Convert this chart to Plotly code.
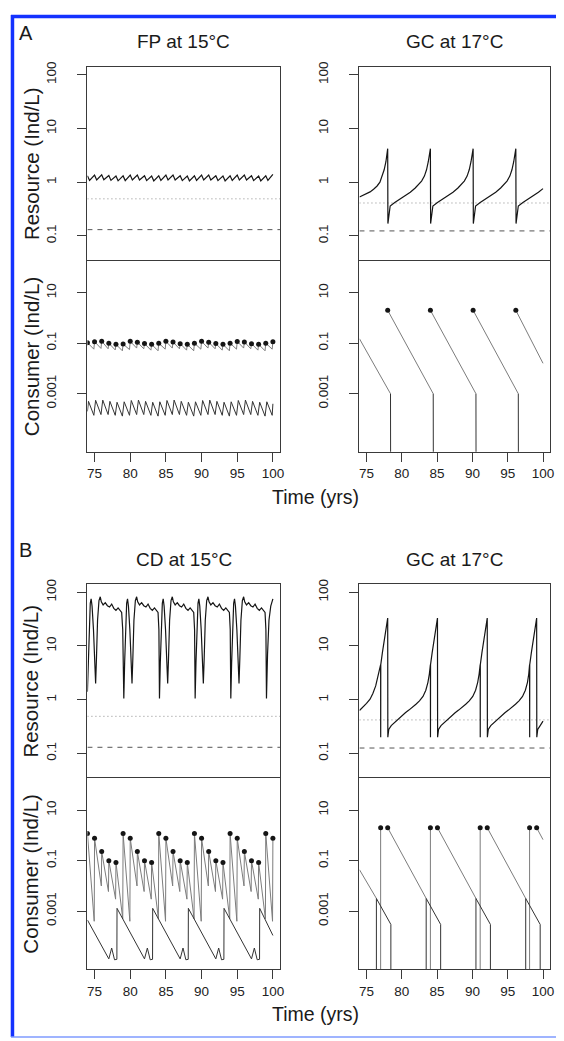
import plotly.graph_objects as go

# page is 564x1041; the html body adds an 8px margin, so the figure is 8px smaller/offset
PAGE_W, PAGE_H = 564, 1041
OFF = 8
W, H = PAGE_W - OFF, PAGE_H - OFF

# ---------------- data ----------------
x_ticks = [75, 80, 85, 90, 95, 100]
res_tickvals = [0.1, 1, 10, 100]
res_ticktext = ["0.1", "1", "10", "100"]
con_tickvals = [0.001, 0.1, 10]
con_ticktext = ["0.001", "0.1", "10"]

# thresholds: [dotted, dashed]
fp_thr = [0.49, 0.131]
gcA_thr = [0.41, 0.124]
cd_thr = [0.49, 0.13]
gcB_thr = [0.42, 0.126]

# ---- A: FP at 15C ----
fp_res_t = [74.0, 74.3, 75.0, 75.3, 76.0, 76.3, 77.0, 77.3, 78.0, 78.3, 79.0, 79.3, 80.0, 80.3,
            81.0, 81.3, 82.0, 82.3, 83.0, 83.3, 84.0, 84.3, 85.0, 85.3, 86.0, 86.3, 87.0, 87.3,
            88.0, 88.3, 89.0, 89.3, 90.0, 90.3, 91.0, 91.3, 92.0, 92.3, 93.0, 93.3, 94.0, 94.3,
            95.0, 95.3, 96.0, 96.3, 97.0, 97.3, 98.0, 98.3, 99.0, 99.3, 100.0]
fp_res_v = [1.32, 1.08, 1.35, 1.10, 1.37, 1.11, 1.33, 1.08, 1.30, 1.06, 1.31, 1.07, 1.36, 1.10,
            1.36, 1.10, 1.32, 1.07, 1.30, 1.06, 1.32, 1.08, 1.36, 1.10, 1.36, 1.10, 1.32, 1.07,
            1.30, 1.06, 1.32, 1.08, 1.36, 1.10, 1.36, 1.10, 1.32, 1.07, 1.30, 1.06, 1.32, 1.08,
            1.36, 1.10, 1.36, 1.10, 1.32, 1.07, 1.30, 1.06, 1.32, 1.08, 1.40]

fp_dot_t = [74, 75, 76, 77, 78, 79, 80, 81, 82, 83, 84, 85, 86, 87, 88, 89, 90, 91, 92, 93,
            94, 95, 96, 97, 98, 99, 100]
fp_dot_v = [0.105, 0.115, 0.12, 0.10, 0.09, 0.092, 0.118, 0.11, 0.097, 0.09, 0.10, 0.118,
            0.112, 0.096, 0.09, 0.10, 0.118, 0.11, 0.097, 0.09, 0.10, 0.117, 0.112, 0.096,
            0.09, 0.10, 0.115]

fp_adult_t = [74.0, 74.9, 75.0, 75.9, 76.0, 76.9, 77.0, 77.9, 78.0, 78.9, 79.0, 79.9, 80.0, 80.9,
              81.0, 81.9, 82.0, 82.9, 83.0, 83.9, 84.0, 84.9, 85.0, 85.9, 86.0, 86.9, 87.0, 87.9,
              88.0, 88.9, 89.0, 89.9, 90.0, 90.9, 91.0, 91.9, 92.0, 92.9, 93.0, 93.9, 94.0, 94.9,
              95.0, 95.9, 96.0, 96.9, 97.0, 97.9, 98.0, 98.9, 99.0, 99.9, 100.0]
fp_adult_v = [0.105, 0.058, 0.115, 0.062, 0.12, 0.060, 0.10, 0.054, 0.09, 0.050, 0.092, 0.056,
              0.118, 0.064, 0.11, 0.060, 0.097, 0.053, 0.09, 0.050, 0.10, 0.058, 0.118, 0.064,
              0.112, 0.060, 0.096, 0.053, 0.09, 0.050, 0.10, 0.058, 0.118, 0.064, 0.11, 0.060,
              0.097, 0.053, 0.09, 0.050, 0.10, 0.058, 0.117, 0.064, 0.112, 0.060, 0.096, 0.053,
              0.09, 0.050, 0.10, 0.058, 0.115]

fp_juv_t = [74.0, 74.15, 74.9, 75.15, 75.9, 76.15, 76.9, 77.15, 77.9, 78.15, 78.9, 79.15, 79.9,
            80.15, 80.9, 81.15, 81.9, 82.15, 82.9, 83.15, 83.9, 84.15, 84.9, 85.15, 85.9, 86.15,
            86.9, 87.15, 87.9, 88.15, 88.9, 89.15, 89.9, 90.15, 90.9, 91.15, 91.9, 92.15, 92.9,
            93.15, 93.9, 94.15, 94.9, 95.15, 95.9, 96.15, 96.9, 97.15, 97.9, 98.15, 98.9, 99.15,
            99.9, 100.0]
fp_juv_v = [0.00020, 0.00050, 0.00014, 0.00055, 0.00015, 0.00056, 0.00015, 0.00050, 0.00014,
            0.00046, 0.00013, 0.00048, 0.00014, 0.00054, 0.00015, 0.00056, 0.00015, 0.00050,
            0.00014, 0.00046, 0.00013, 0.00048, 0.00014, 0.00054, 0.00015, 0.00056, 0.00015,
            0.00050, 0.00014, 0.00046, 0.00013, 0.00048, 0.00014, 0.00054, 0.00015, 0.00056,
            0.00015, 0.00050, 0.00014, 0.00046, 0.00013, 0.00048, 0.00014, 0.00054, 0.00015,
            0.00056, 0.00015, 0.00050, 0.00014, 0.00046, 0.00013, 0.00048, 0.00014, 0.00040]

# ---- A: GC at 17C ----
gcA_res_t = [74.0, 74.5, 75.0, 75.5, 76.0, 76.5, 76.9, 77.2, 77.5, 77.75, 77.92, 78.0, 78.03, 78.35,
             79.0, 79.8, 80.5, 81.2, 81.9, 82.4, 82.8, 83.2, 83.5, 83.75, 83.95, 84.05, 84.08, 84.4,
             85.05, 85.85, 86.55, 87.25, 87.95, 88.45, 88.85, 89.25, 89.55, 89.8, 90.0, 90.1, 90.13, 90.45,
             91.1, 91.9, 92.6, 93.3, 94.0, 94.5, 94.9, 95.3, 95.6, 95.85, 96.05, 96.15, 96.18, 96.5,
             97.15, 97.95, 98.65, 99.35, 100.0]
gcA_res_v = [0.53, 0.57, 0.61, 0.66, 0.74, 0.85, 1.0, 1.25, 1.7, 2.4, 3.3, 4.2, 0.17, 0.36,
             0.42, 0.49, 0.56, 0.65, 0.78, 0.92, 1.05, 1.3, 1.7, 2.4, 3.3, 4.2, 0.17, 0.36,
             0.42, 0.49, 0.56, 0.65, 0.78, 0.92, 1.05, 1.3, 1.7, 2.4, 3.3, 4.2, 0.17, 0.36,
             0.42, 0.49, 0.56, 0.65, 0.78, 0.92, 1.05, 1.3, 1.7, 2.4, 3.3, 4.2, 0.17, 0.36,
             0.42, 0.49, 0.56, 0.65, 0.76]

gcA_dot_t = [78.0, 84.05, 90.1, 96.15]
gcA_dot_v = [2.0, 2.0, 2.0, 2.0]
gcA_adult_t = [74.0, 78.4, None, 78.0, 84.45, None, 84.05, 90.5, None, 90.1, 96.5, None, 96.15, 100.0]
gcA_adult_v = [0.15, 0.001, None, 2.0, 0.001, None, 2.0, 0.001, None, 2.0, 0.001, None, 2.0, 0.016]
gcA_juv_t = [78.4, 78.42, None, 84.45, 84.47, None, 90.5, 90.52, None, 96.5, 96.52]
gcA_juv_v = [0.001, 1e-7, None, 0.001, 1e-7, None, 0.001, 1e-7, None, 0.001, 1e-7]

# ---- B: CD at 15C ----
cd_res_t = [74.0, 74.12, 74.25, 74.4, 74.52, 74.65, 74.85, 75.02, 75.15, 75.27, 75.42, 75.62, 75.8,
            75.95, 76.2, 76.5, 76.8, 77.1, 77.4, 77.7, 78.0, 78.3, 78.6, 78.8, 78.95,
            79.1, 79.22, 79.35, 79.5, 79.62, 79.75, 79.95, 80.12, 80.25, 80.37, 80.52, 80.72, 80.9,
            81.05, 81.3, 81.6, 81.9, 82.2, 82.5, 82.8, 83.1, 83.4, 83.7, 83.9, 84.02,
            84.1, 84.22, 84.35, 84.5, 84.62, 84.75, 84.95, 85.12, 85.25, 85.37, 85.52, 85.72, 85.9,
            86.05, 86.3, 86.6, 86.9, 87.2, 87.5, 87.8, 88.1, 88.4, 88.7, 88.9, 89.02,
            89.1, 89.22, 89.35, 89.5, 89.62, 89.75, 89.95, 90.12, 90.25, 90.37, 90.52, 90.72, 90.9,
            91.05, 91.3, 91.6, 91.9, 92.2, 92.5, 92.8, 93.1, 93.4, 93.7, 93.9, 94.02,
            94.1, 94.22, 94.35, 94.5, 94.62, 94.75, 94.95, 95.12, 95.25, 95.37, 95.52, 95.72, 95.9,
            96.05, 96.3, 96.6, 96.9, 97.2, 97.5, 97.8, 98.1, 98.4, 98.7, 98.9, 99.02,
            99.1, 99.25, 99.45, 99.7, 100.0]
cd_res_v = [1.4, 5, 25, 62, 75, 55, 20, 5, 2.0, 6, 30, 70, 82, 66, 58, 64, 56, 53, 60, 50, 46, 51, 45, 42, 20,
            1.05, 5, 25, 62, 75, 55, 20, 5, 2.0, 6, 30, 70, 82, 66, 58, 64, 56, 53, 60, 50, 46, 51, 45, 42, 20,
            1.05, 5, 25, 62, 75, 55, 20, 5, 2.0, 6, 30, 70, 82, 66, 58, 64, 56, 53, 60, 50, 46, 51, 45, 42, 20,
            1.05, 5, 25, 62, 75, 55, 20, 5, 2.0, 6, 30, 70, 82, 66, 58, 64, 56, 53, 60, 50, 46, 51, 45, 42, 20,
            1.05, 5, 25, 62, 75, 55, 20, 5, 2.0, 6, 30, 70, 82, 66, 58, 64, 56, 53, 60, 50, 46, 51, 45, 42, 20,
            1.05, 7, 30, 55, 75]

cd_dot_t = [74, 75, 76, 77, 78, 79, 80, 81, 82, 83, 84, 85, 86, 87, 88, 89, 90, 91, 92, 93,
            94, 95, 96, 97, 98, 99, 100]
cd_dot_v = [1.2, 0.77, 0.23, 0.10, 0.085, 1.2, 0.77, 0.23, 0.10, 0.085, 1.2, 0.77, 0.23, 0.10,
            0.085, 1.2, 0.77, 0.23, 0.10, 0.085, 1.2, 0.77, 0.23, 0.10, 0.085, 1.2, 0.77]
cd_adult_t = [74.0, 74.95, 75.0, 75.95, 76.0, 76.95, 77.0, 77.95, 78.0, 78.95, 79.0, 79.95, 80.0,
              80.95, 81.0, 81.95, 82.0, 82.95, 83.0, 83.95, 84.0, 84.95, 85.0, 85.95, 86.0, 86.95,
              87.0, 87.95, 88.0, 88.95, 89.0, 89.95, 90.0, 90.95, 91.0, 91.95, 92.0, 92.95, 93.0,
              93.95, 94.0, 94.95, 95.0, 95.95, 96.0, 96.95, 97.0, 97.95, 98.0, 98.95, 99.0, 99.95,
              100.0]
cd_adult_v = [1.2, 0.0004, 0.77, 0.01, 0.23, 0.006, 0.10, 0.003, 0.085, 0.0005, 1.2, 0.0004, 0.77,
              0.01, 0.23, 0.006, 0.10, 0.003, 0.085, 0.0005, 1.2, 0.0004, 0.77, 0.01, 0.23, 0.006,
              0.10, 0.003, 0.085, 0.0005, 1.2, 0.0004, 0.77, 0.01, 0.23, 0.006, 0.10, 0.003, 0.085,
              0.0005, 1.2, 0.0004, 0.77, 0.01, 0.23, 0.006, 0.10, 0.003, 0.085, 0.0005, 1.2, 0.0004,
              0.77]
cd_juv_t = [74.0, 77.0, 77.4, 77.8, 78.13, 78.15, 82.0, 82.4, 82.8, 83.13, 83.15, 87.0, 87.4, 87.8,
            88.13, 88.15, 92.0, 92.4, 92.8, 93.13, 93.15, 97.0, 97.4, 97.8, 98.13, 98.15, 100.0]
cd_juv_v = [0.00045, 1.3e-5, 3.5e-5, 1.2e-5, 1.25e-5, 0.0013, 1.3e-5, 3.5e-5, 1.2e-5, 1.25e-5,
            0.0013, 1.3e-5, 3.5e-5, 1.2e-5, 1.25e-5, 0.0013, 1.3e-5, 3.5e-5, 1.2e-5, 1.25e-5,
            0.0013, 1.3e-5, 3.5e-5, 1.2e-5, 1.25e-5, 0.0013, 0.00011]

# ---- B: GC at 17C ----
gcB_res_t = [74.0, 74.5, 75.0, 75.5, 75.9, 76.3, 76.6, 76.85, 77.0, 77.01, 77.02, 77.25, 77.5, 77.75, 78.0,
             78.02, 78.15, 78.5, 79.0, 79.5, 80.0, 80.5, 81.0, 81.5, 82.0, 82.5, 83.0, 83.4, 83.7, 83.9,
             84.05, 84.06, 84.07, 84.3, 84.55, 84.8, 85.05,
             85.07, 85.2, 85.55, 86.05, 86.55, 87.05, 87.55, 88.05, 88.55, 89.05, 89.55, 90.05, 90.45,
             90.75, 90.95, 91.1, 91.11, 91.12, 91.35, 91.6, 91.85, 92.1,
             92.12, 92.25, 92.6, 93.1, 93.6, 94.1, 94.6, 95.1, 95.6, 96.1, 96.6, 97.1, 97.5, 97.8, 97.98,
             98.1, 98.11, 98.12, 98.35, 98.6, 98.85, 99.1,
             99.12, 99.25, 99.6, 100.0]
gcB_res_v = [0.63, 0.72, 0.85, 1.02, 1.3, 1.8, 2.6, 3.6, 4.5, 0.2, 4.5, 7.5, 12.5, 20, 33,
             0.2, 0.28, 0.33, 0.38, 0.44, 0.5, 0.57, 0.64, 0.72, 0.82, 0.95, 1.15, 1.5, 2.1, 3.0,
             4.5, 0.2, 4.5, 7.5, 12.5, 20, 33,
             0.2, 0.28, 0.33, 0.38, 0.44, 0.5, 0.57, 0.64, 0.72, 0.82, 0.95, 1.15, 1.5,
             2.1, 3.0, 4.5, 0.2, 4.5, 7.5, 12.5, 20, 33,
             0.2, 0.28, 0.33, 0.38, 0.44, 0.5, 0.57, 0.64, 0.72, 0.82, 0.95, 1.15, 1.5, 2.1, 3.0,
             4.5, 0.2, 4.5, 7.5, 12.5, 20, 33,
             0.2, 0.28, 0.33, 0.40]

gcB_dot_t = [77.0, 78.0, 84.05, 85.05, 91.1, 92.1, 98.1, 99.1]
gcB_dot_v = [2.0, 2.0, 2.0, 2.0, 2.0, 2.0, 2.0, 2.0]
gcB_adult_t = [74.0, 76.4, None, 78.0, 83.45, None, 85.05, 90.5, None, 92.1, 97.55, None, 99.1, 100.0,
               None, 77.0, 77.0, None, 84.05, 84.05, None, 91.1, 91.1, None, 98.1, 98.1]
gcB_adult_v = [0.044, 0.0032, None, 2.0, 0.0032, None, 2.0, 0.0032, None, 2.0, 0.0032, None, 2.0, 0.68,
               None, 2.0, 1e-7, None, 2.0, 1e-7, None, 2.0, 1e-7, None, 2.0, 1e-7]
gcB_juv_t = [76.4, 76.4, 78.45, 78.45, None, 83.45, 83.45, 85.5, 85.5, None, 90.5, 90.5, 92.55, 92.55,
             None, 97.55, 97.55, 99.6, 99.6]
gcB_juv_v = [1e-7, 0.0032, 0.0003, 1e-7, None, 1e-7, 0.0032, 0.0003, 1e-7, None, 1e-7, 0.0032, 0.0003,
             1e-7, None, 1e-7, 0.0032, 0.0003, 1e-7]

# ---------------- layout geometry (page pixels) ----------------
XL = (88, 282)
XR = (362, 554)
Y_PANELS = {"A_res": (62, 256), "A_con": (257, 449), "B_res": (582, 776), "B_con": (777, 969)}
RES_RANGE = [-1.444, 2.148]
CON_RANGE = [-5.30, 2.26]
X_RANGE = [74, 101]

FONT = "Liberation Sans, Arial, sans-serif"
AXC = "#3a3a3a"
BLACK = "#151515"
GRAY = "#7c7c7c"

fig = go.Figure()


def px_x(p):
    return (p - OFF) / W


def px_y(p):
    return 1 - (p - OFF) / H


def xd(px):
    return [px_x(px[0]), px_x(px[1])]


def yd(py):
    return [px_y(py[1]), px_y(py[0])]


axes_def = [
    (1, XL, "A_res", "res"),
    (2, XL, "A_con", "con"),
    (3, XR, "A_res", "res"),
    (4, XR, "A_con", "con"),
    (5, XL, "B_res", "res"),
    (6, XL, "B_con", "con"),
    (7, XR, "B_res", "res"),
    (8, XR, "B_con", "con"),
]

layout = {}
for i, xpx, yk, kind in axes_def:
    xs = "" if i == 1 else str(i)
    xa = dict(domain=xd(xpx), range=X_RANGE, anchor="y" + xs, showgrid=False, zeroline=False,
              showline=True, mirror=True, linecolor=AXC, linewidth=1, fixedrange=True)
    if kind == "con":
        xa.update(tickmode="array", tickvals=x_ticks, ticktext=[str(v) for v in x_ticks],
                  ticks="outside", ticklen=9, tickcolor=AXC, tickwidth=1,
                  tickfont=dict(family=FONT, size=13.5, color="#222"))
    else:
        xa.update(showticklabels=False, ticks="")
    ya = dict(domain=yd(Y_PANELS[yk]), type="log", anchor="x" + xs, showgrid=False, zeroline=False,
              showline=True, mirror=True, linecolor=AXC, linewidth=1, fixedrange=True,
              ticks="outside", ticklen=9, tickcolor=AXC, tickwidth=1, tickangle=-90,
              ticklabelstandoff=16,
              tickfont=dict(family=FONT, size=13.5, color="#222"), tickmode="array")
    if kind == "res":
        ya.update(range=RES_RANGE, tickvals=res_tickvals, ticktext=res_ticktext)
    else:
        ya.update(range=CON_RANGE, tickvals=con_tickvals, ticktext=con_ticktext)
    layout["xaxis" + xs] = xa
    layout["yaxis" + xs] = ya


def add_line(i, x, y, color, width=1.2, dash=None):
    xs = "" if i == 1 else str(i)
    fig.add_trace(go.Scatter(x=x, y=y, xaxis="x" + xs, yaxis="y" + xs, mode="lines",
                             line=dict(color=color, width=width, dash=dash),
                             connectgaps=False, hoverinfo="skip", showlegend=False))


def add_dots(i, x, y):
    xs = "" if i == 1 else str(i)
    fig.add_trace(go.Scatter(x=x, y=y, xaxis="x" + xs, yaxis="y" + xs, mode="markers",
                             marker=dict(color=BLACK, size=5), hoverinfo="skip", showlegend=False))


def add_thresholds(i, thr):
    add_line(i, X_RANGE, [thr[0], thr[0]], "#8a8a8a", 1.0, "1px,3px")
    add_line(i, X_RANGE, [thr[1], thr[1]], "#555555", 1.0, "5px,5px")


# Panel A left (FP)
add_thresholds(1, fp_thr)
add_line(1, fp_res_t, fp_res_v, BLACK, 1.2)
add_line(2, fp_adult_t, fp_adult_v, GRAY, 1.0)
add_line(2, fp_juv_t, fp_juv_v, "#333333", 1.0)
add_dots(2, fp_dot_t, fp_dot_v)

# Panel A right (GC)
add_thresholds(3, gcA_thr)
add_line(3, gcA_res_t, gcA_res_v, BLACK, 1.2)
add_line(4, gcA_adult_t, gcA_adult_v, GRAY, 1.0)
add_line(4, gcA_juv_t, gcA_juv_v, "#333333", 1.0)
add_dots(4, gcA_dot_t, gcA_dot_v)

# Panel B left (CD)
add_thresholds(5, cd_thr)
add_line(5, cd_res_t, cd_res_v, BLACK, 1.2)
add_line(6, cd_adult_t, cd_adult_v, GRAY, 1.0)
add_line(6, cd_juv_t, cd_juv_v, "#333333", 1.0)
add_dots(6, cd_dot_t, cd_dot_v)

# Panel B right (GC)
add_thresholds(7, gcB_thr)
add_line(7, gcB_res_t, gcB_res_v, BLACK, 1.2)
add_line(8, gcB_adult_t, gcB_adult_v, GRAY, 1.0)
add_line(8, gcB_juv_t, gcB_juv_v, "#333333", 1.0)
add_dots(8, gcB_dot_t, gcB_dot_v)

# ---------------- annotations ----------------
ann = []


def text(x, y, s, size, angle=0):
    ann.append(dict(x=px_x(x), y=px_y(y), xref="paper", yref="paper", text=s, showarrow=False,
                    textangle=angle, xanchor="center", yanchor="middle",
                    font=dict(family=FONT, size=size, color="#1a1a1a")))


for off, letter, t1, t2 in [(0, "A", "FP at 15°C", "GC at 17°C"), (520, "B", "CD at 15°C", "GC at 17°C")]:
    text(26, 28 + off, letter, 20)
    text((XL[0] + XL[1]) / 2, 37 + off, t1, 19)
    text((XR[0] + XR[1]) / 2, 37 + off, t2, 19)
    text(31, 159 + off, "Resource (Ind/L)", 20.5, -90)
    text(31, 353 + off, "Consumer (Ind/L)", 20.5, -90)
    text(318, 494 + off, "Time (yrs)", 19.5)

# blue frame
shapes = [
    dict(type="line", xref="paper", yref="paper", x0=px_x(12.5), x1=px_x(12.5), y0=px_y(10), y1=px_y(1037),
         line=dict(color="#1432ff", width=3.5)),
    dict(type="line", xref="paper", yref="paper", x0=px_x(11), x1=1.0, y0=px_y(11.5), y1=px_y(11.5),
         line=dict(color="#1432ff", width=3.5)),
    dict(type="line", xref="paper", yref="paper", x0=px_x(11), x1=1.0, y0=px_y(1037), y1=px_y(1037),
         line=dict(color="#7f9bff", width=1.5)),
]

fig.update_layout(width=W, height=H, margin=dict(l=0, r=0, t=0, b=0), paper_bgcolor="white",
                  plot_bgcolor="white", showlegend=False, annotations=ann, shapes=shapes, **layout)

fig.write_html("out.html")
